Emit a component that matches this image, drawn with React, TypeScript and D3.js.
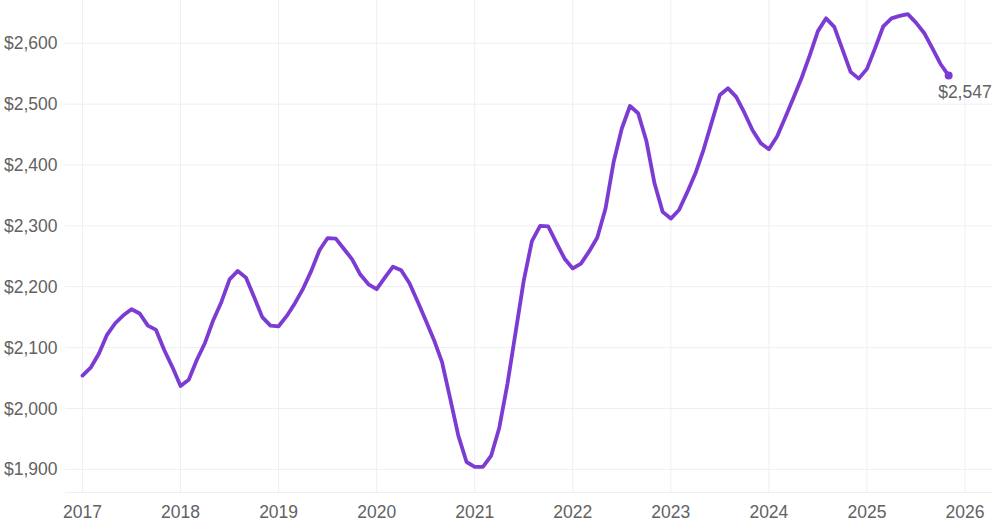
import React from "react";
import * as d3 from "d3";

const startYear = 2017;
const values2017 = [2054, 2067, 2090, 2121, 2140, 2153, 2163, 2156, 2136, 2129, 2096, 2068];
const values2018 = [2037, 2047, 2080, 2108, 2145, 2175, 2212, 2226, 2215, 2183, 2150, 2136];
const values2019 = [2135, 2152, 2173, 2197, 2226, 2260, 2280, 2279, 2262, 2245, 2220, 2204];
const values2020 = [2196, 2215, 2233, 2227, 2206, 2176, 2145, 2113, 2076, 2016, 1955, 1912];
const values2021 = [1904, 1904, 1922, 1968, 2040, 2125, 2210, 2275, 2300, 2299, 2272, 2246];
const values2022 = [2230, 2238, 2258, 2281, 2328, 2405, 2460, 2497, 2485, 2440, 2370, 2323];
const values2023 = [2312, 2326, 2355, 2386, 2425, 2470, 2515, 2526, 2512, 2486, 2457, 2436];
const values2024 = [2426, 2447, 2478, 2510, 2543, 2580, 2620, 2641, 2627, 2590, 2553, 2542];
const values2025 = [2558, 2592, 2628, 2641, 2645, 2648, 2634, 2617, 2592, 2566, 2547];

const yearTicks = [2017, 2018, 2019, 2020, 2021, 2022, 2023, 2024, 2025, 2026];
const valueTicks = [1900, 2000, 2100, 2200, 2300, 2400, 2500, 2600];

const allValues = [
  ...values2017, ...values2018, ...values2019, ...values2020, ...values2021,
  ...values2022, ...values2023, ...values2024, ...values2025,
];
const series = allValues.map((v, i) => ({ t: startYear + i / 12, v }));

const W = 1000;
const H = 522;
const plotLeft = 65;
const plotRight = 992;
const plotBottom = 492.5;

const x = d3.scaleLinear().domain([2017, 2026]).range([82.5, 965]);
const y = d3.scaleLinear().domain([1900, 2600]).range([469.3, 43.3]);

const fmt = (v: number) => "$" + d3.format(",")(v);

const LINE = "#7c3bd3";
const TEXT = "#626262";
const GRID = "#efeff2";
const FONT = "'Liberation Sans', Arial, Helvetica, sans-serif";

export default function App() {
  const line = d3
    .line<{ t: number; v: number }>()
    .x((d) => x(d.t))
    .y((d) => y(d.v));
  const last = series[series.length - 1];
  return (
    <div style={{ position: "absolute", left: 0, top: 0, width: W, height: H, background: "#fff" }}>
      <svg width={W} height={H} style={{ display: "block" }}>
        <rect x={0} y={0} width={W} height={H} fill="#fff" />
        {valueTicks.map((t) => (
          <line key={"h" + t} x1={plotLeft} x2={plotRight} y1={y(t)} y2={y(t)} stroke={GRID} strokeWidth={1} />
        ))}
        <line x1={plotLeft} x2={plotRight} y1={plotBottom} y2={plotBottom} stroke={GRID} strokeWidth={1} />
        {yearTicks.map((t) => (
          <line key={"v" + t} x1={x(t)} x2={x(t)} y1={0} y2={plotBottom} stroke={GRID} strokeWidth={1} />
        ))}
        {valueTicks.map((t) => (
          <text
            key={"yl" + t}
            x={57.5}
            y={y(t)}
            dy="0.35em"
            textAnchor="end"
            fontFamily={FONT}
            fontSize={17.5}
            fill={TEXT}
          >
            {fmt(t)}
          </text>
        ))}
        {yearTicks.map((t) => (
          <text
            key={"xl" + t}
            x={x(t)}
            y={518}
            textAnchor="middle"
            fontFamily={FONT}
            fontSize={17.5}
            fill={TEXT}
          >
            {t}
          </text>
        ))}
        <path
          d={line(series) || ""}
          fill="none"
          stroke={LINE}
          strokeWidth={3.8}
          strokeLinejoin="round"
          strokeLinecap="round"
        />
        <circle cx={x(last.t)} cy={y(last.v)} r={4} fill={LINE} />
        <text
          x={x(last.t) - 10.5}
          y={y(last.v) + 22.5}
          fontFamily={FONT}
          fontSize={17.5}
          fill={TEXT}
        >
          {fmt(last.v)}
        </text>
      </svg>
    </div>
  );
}
